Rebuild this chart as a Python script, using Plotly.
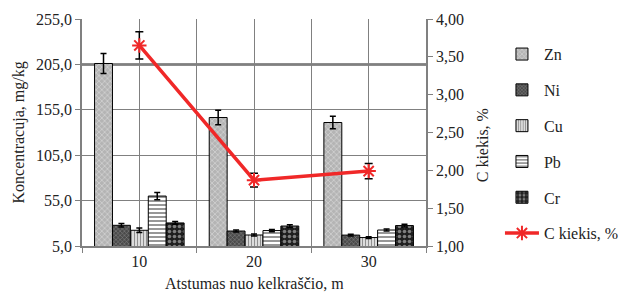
import plotly.graph_objects as go

# ---- data ----
distances = [10, 20, 30]
tick_text_x = ["10", "20", "30"]

zn = [206, 146.5, 141]
zn_err = [11, 8, 7]
ni = [27.8, 21.5, 17]
ni_err = [2, 1.2, 1]
cu = [22.3, 17.1, 14.3]
cu_err = [2.5, 1, 1]
pb = [60, 22, 22.6]
pb_err = [4, 1.2, 1.2]
cr = [30.4, 27, 27.5]
cr_err = [1.5, 1.5, 1.5]

c_kiekis = [3.65, 1.87, 1.99]
c_err = [0.18, 0.09, 0.10]

left_ticks = [5, 55, 105, 155, 205, 255]
left_tick_text = ["5,0", "55,0", "105,0", "155,0", "205,0", "255,0"]
right_ticks = [1.0, 1.5, 2.0, 2.5, 3.0, 3.5, 4.0]
right_tick_text = ["1,00", "1,50", "2,00", "2,50", "3,00", "3,50", "4,00"]

FONT = "Liberation Serif"
TXT = "#222222"
GRID = "#808080"

series = [
    ("Zn", zn, zn_err, dict(shape="x", bgcolor="#b4b4b4", fgcolor="#f2f2f2", size=4, solidity=0.35)),
    ("Ni", ni, ni_err, dict(shape="x", bgcolor="#4a4a4a", fgcolor="#c8c8c8", size=3, solidity=0.3)),
    ("Cu", cu, cu_err, dict(shape="|", bgcolor="#ffffff", fgcolor="#202020", size=3, solidity=0.55)),
    ("Pb", pb, pb_err, dict(shape="-", bgcolor="#ffffff", fgcolor="#303030", size=4, solidity=0.5)),
    ("Cr", cr, cr_err, dict(shape=".", bgcolor="#1e1e1e", fgcolor="#e0e0e0", size=5, solidity=0.4)),
]

fig = go.Figure()
for i, (name, vals, errs, pat) in enumerate(series):
    fig.add_trace(go.Bar(
        x=distances, y=vals, name=name, legendgroup=name,
        marker=dict(pattern=pat, line=dict(color="#000000", width=1)),
        error_y=dict(type="data", array=errs, color="#000000", thickness=1.5, width=3),
    ))

fig.add_trace(go.Scatter(
    x=distances, y=c_kiekis, name="C kiekis, %", legendgroup="C", yaxis="y2",
    mode="lines+markers",
    line=dict(color="#f02828", width=3.5),
    marker=dict(symbol="asterisk-open", size=12, color="#f02828", line=dict(color="#f02828", width=2)),
    error_y=dict(type="data", array=c_err, color="#000000", thickness=1.5, width=4),
))

fig.update_layout(
    width=640, height=292,
    margin=dict(l=82, r=214, t=19, b=46, autoexpand=False),
    paper_bgcolor="white", plot_bgcolor="white",
    font=dict(family=FONT, size=16, color=TXT),
    barmode="group", bargap=0.219, bargroupgap=0,
    showlegend=True,
    legend=dict(x=1.215, xanchor="left", y=0.92, yanchor="top",
                font=dict(family=FONT, size=16, color=TXT),
                tracegroupgap=12, bgcolor="rgba(0,0,0,0)", itemwidth=34),
    xaxis=dict(
        range=[5, 35], tickmode="array", tickvals=distances, ticktext=tick_text_x,
        ticks="", showgrid=True, gridcolor=GRID, gridwidth=1,
        showline=True, linecolor=GRID, linewidth=1.5, zeroline=False,
        minor=dict(tickmode="array", tickvals=[5, 15, 25, 35], ticks="outside",
                   ticklen=5, tickcolor=GRID, showgrid=True, gridcolor=GRID, gridwidth=1),
        tickfont=dict(family=FONT, size=16, color=TXT),
    ),
    yaxis=dict(
        range=[5, 255], tickmode="array", tickvals=left_ticks, ticktext=left_tick_text,
        ticks="outside", ticklen=5, tickcolor=GRID,
        showgrid=True, gridcolor=GRID, gridwidth=1,
        showline=True, linecolor=GRID, linewidth=1.5, zeroline=False,
        tickfont=dict(family=FONT, size=16, color=TXT),
    ),
    yaxis2=dict(
        range=[1, 4], overlaying="y", side="right", tickmode="array",
        tickvals=right_ticks, ticktext=right_tick_text,
        ticks="outside", ticklen=5, tickcolor=GRID,
        showgrid=False, showline=True, linecolor=GRID, linewidth=1.5, zeroline=False,
        tickfont=dict(family=FONT, size=16, color=TXT),
    ),
    shapes=[dict(type="line", xref="paper", x0=0, x1=1, yref="y", y0=205, y1=205,
                 line=dict(color="#1a1a1a", width=2), layer="between")],
    annotations=[
        dict(text="Koncentracuja, mg/kg", xref="paper", yref="paper", x=-0.186, y=0.5,
             textangle=-90, showarrow=False, xanchor="center", yanchor="middle",
             font=dict(family=FONT, size=16, color=TXT)),
        dict(text="C kiekis, %", xref="paper", yref="paper", x=1.163, y=0.444,
             textangle=-90, showarrow=False, xanchor="center", yanchor="middle",
             font=dict(family=FONT, size=16, color=TXT)),
        dict(text="Atstumas nuo kelkraščio, m", xref="paper", yref="paper", x=0.5, y=-0.165,
             showarrow=False, xanchor="center", yanchor="middle",
             font=dict(family=FONT, size=16, color=TXT)),
    ],
)

fig.write_html("out.html", config={"displayModeBar": False},
               post_script="document.body.style.margin='0';document.body.style.padding='0';")
